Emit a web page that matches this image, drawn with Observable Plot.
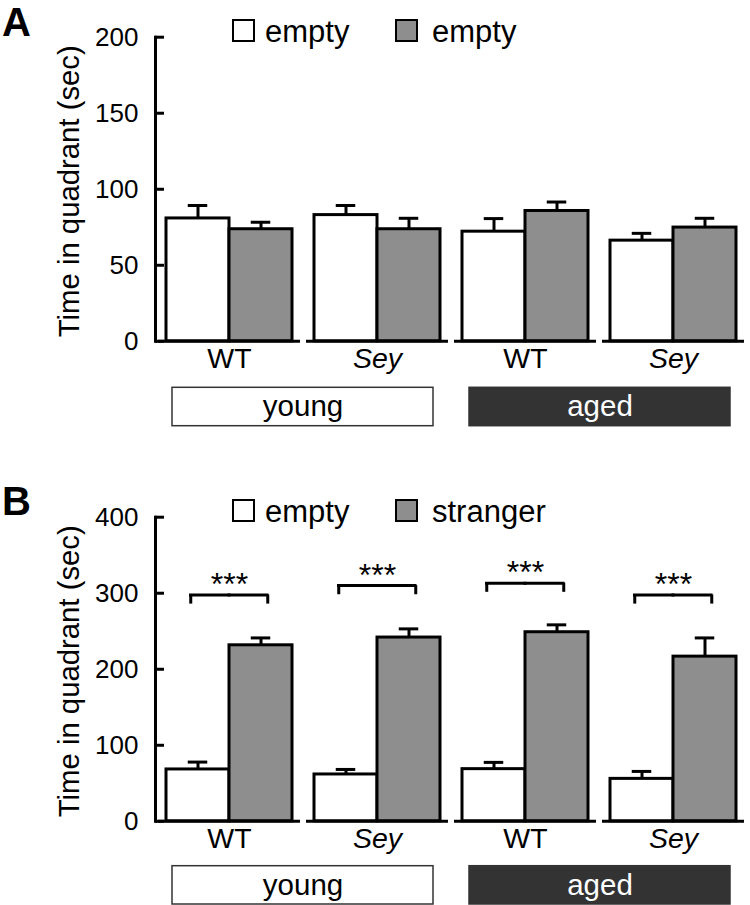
<!DOCTYPE html>
<html><head><meta charset="utf-8">
<script src="https://cdn.jsdelivr.net/npm/d3@7"></script>
<script src="https://cdn.jsdelivr.net/npm/@observablehq/plot@0.6"></script>
<style>
body{margin:0;background:#fff;font-family:"Liberation Sans",Arial,sans-serif;}
#root{position:relative;width:750px;height:905px;overflow:hidden;background:#fff}
.abs{position:absolute}
.letter{font-weight:bold;font-size:40px;line-height:1;color:#000}
.leg{font-size:31px;line-height:1;color:#000;white-space:nowrap}
.sw{width:19px;height:19px;border:2.5px solid #000}
svg{background:transparent !important}
</style></head><body><div id="root"></div>
<script>
// ---- data ----
const groups = ["young WT", "young Sey", "aged WT", "aged Sey"];
const genotypes = ["WT", "Sey", "WT", "Sey"];
const ages = ["young", "young", "aged", "aged"];
const ageLevels = ["young", "aged"];

const seriesA = ["empty", "empty"];
const meanA1 = [80.8, 83.0, 72.1, 66.2];
const semA1 = [8.5, 6.3, 8.6, 4.8];
const meanA2 = [73.7, 73.7, 85.7, 74.8];
const semA2 = [4.6, 7.2, 5.9, 6.1];
const ticksA = [0, 50, 100, 150, 200];

const seriesB = ["empty", "stranger"];
const meanB1 = [68.2, 61.6, 68.6, 55.8];
const semB1 = [9.7, 6.6, 8.9, 9.8];
const meanB2 = [231.5, 241.7, 248.7, 216.6];
const semB2 = [9.7, 11.4, 9.7, 24.6];
const sigB = ["***", "***", "***", "***"];
const bracketB = [297.7, 310, 313.2, 297.7];
const ticksB = [0, 100, 200, 300, 400];

const yLabel = "Time in quadrant (sec)";
const FONT = "'Liberation Sans', Arial, sans-serif";
const GRAY = "#8e8e8e";

const root = document.getElementById("root");

function rowsOf(m1, s1, m2, s2) {
  return groups.flatMap((g, i) => [
    {group: g, side: 0, value: m1[i], sem: s1[i]},
    {group: g, side: 1, value: m2[i], sem: s2[i]}
  ]);
}
const labelRows = groups.map((g, i) => ({group: g, genotype: genotypes[i], age: ages[i]}));

function mainPlot(rows, yDomain, ticks, extra) {
  return Plot.plot({
    width: 750, height: 384,
    marginTop: 36.7, marginBottom: 384 - 36.7 - 302.8 - 1.3, marginLeft: 154, marginRight: 2,
    style: {fontFamily: FONT, fontSize: "26px", color: "#000", background: "transparent", overflow: "visible"},
    fx: {domain: groups, padding: 0, axis: null},
    x: {type: "band", domain: [0, 1], paddingInner: 0, paddingOuter: 0.17, axis: null},
    y: {domain: yDomain},
    color: {type: "ordinal", domain: [0, 1], range: ["#ffffff", GRAY]},
    marks: [
      Plot.barY(rows, {fx: "group", x: "side", y: "value", fill: "side", stroke: "#000", strokeWidth: 3}),
      Plot.ruleX(rows, {fx: "group", x: "side", y1: "value", y2: d => d.value + d.sem, stroke: "#000", strokeWidth: 3}),
      Plot.tickY(rows, {fx: "group", x: "side", y: d => d.value + d.sem, stroke: "#000", strokeWidth: 3, insetLeft: 21.75, insetRight: 21.75}),
      Plot.ruleY([0], {stroke: "#000", strokeWidth: 3, insetLeft: 3, insetRight: 3}),
      Plot.frame({anchor: "left", facetAnchor: "left", stroke: "#000", strokeWidth: 3}),
      Plot.axisY({ticks, tickSize: -9, tickPadding: 26, strokeWidth: 3, fontSize: 26, label: null}),
      Plot.text([yLabel], {text: d => d, frameAnchor: "left", facetAnchor: "left", textAnchor: "middle", rotate: -90, dx: -86, dy: 2, fontSize: 29.3}),
      Plot.text(labelRows.filter(d => d.genotype === "WT"), {fx: "group", text: "genotype", frameAnchor: "bottom", dy: 26.9, fontSize: 28.5}),
      Plot.text(labelRows.filter(d => d.genotype === "Sey"), {fx: "group", text: "genotype", frameAnchor: "bottom", dy: 26.9, fontSize: 28.5, fontStyle: "italic"}),
      ...extra
    ]
  });
}

function stripPlot(h, mt, mb) {
  return Plot.plot({
    width: 750, height: h, marginTop: mt, marginBottom: mb, marginLeft: 154, marginRight: 2,
    style: {fontFamily: FONT, fontSize: "29.5px", color: "#000", background: "transparent", overflow: "visible"},
    x: {domain: ageLevels, padding: 0, axis: null},
    color: {domain: ageLevels, range: ["#ffffff", "#333333"]},
    marks: [
      Plot.cell(ageLevels, {x: d => d, fill: d => d, stroke: "#333", strokeWidth: 1.5, insetLeft: 18, insetRight: 18}),
      Plot.text(ageLevels.filter(d => d === "young"), {x: d => d, text: d => d, fill: "#000", fontSize: 29.5}),
      Plot.text(ageLevels.filter(d => d === "aged"), {x: d => d, text: d => d, fill: "#fff", fontSize: 29.5})
    ]
  });
}

function place(el, left, top) {
  el.style.position = "absolute";
  el.style.left = left + "px";
  el.style.top = top + "px";
  root.appendChild(el);
  return el;
}
function html(str) { const d = document.createElement("div"); d.innerHTML = str; return d.firstElementChild; }

function legend(series, top) {
  const xs = [[232, 265], [395, 432]];
  series.forEach((s, i) => {
    const sw = html(`<div class="sw" style="background:${i ? GRAY : "#fff"}"></div>`);
    place(sw, xs[i][0], top + 19);
    const t = html(`<div class="leg">${s}</div>`);
    place(t, xs[i][1], top + 16.3);
  });
}

// ---- Panel A ----
const rowsA = rowsOf(meanA1, semA1, meanA2, semA2);
place(mainPlot(rowsA, [0, 200], ticksA, []), 0, 0);
place(stripPlot(42, 1.3, 2.3), 0, 386);
place(html(`<div class="letter">A</div>`), 2, 2.2);
legend(seriesA, 0);

// ---- Panel B ----
const rowsB = rowsOf(meanB1, semB1, meanB2, semB2);
const brRows = groups.flatMap((g, i) => [
  {group: g, side: 0, y: bracketB[i], sig: sigB[i]},
  {group: g, side: 1, y: bracketB[i], sig: sigB[i]}
]);
const bExtra = [
  Plot.tickY(brRows.filter(d => d.side === 0), {fx: "group", x: "side", y: "y", insetLeft: 24.5, insetRight: 0, stroke: "#000", strokeWidth: 3, strokeLinecap: "square"}),
  Plot.tickY(brRows.filter(d => d.side === 1), {fx: "group", x: "side", y: "y", insetLeft: 0, insetRight: 25, stroke: "#000", strokeWidth: 3, strokeLinecap: "square"}),
  Plot.ruleX(brRows.filter(d => d.side === 0), {fx: "group", x: "side", y1: d => d.y - 12, y2: "y", dx: -7.25, stroke: "#000", strokeWidth: 3}),
  Plot.ruleX(brRows.filter(d => d.side === 1), {fx: "group", x: "side", y1: d => d.y - 12, y2: "y", dx: 6.75, stroke: "#000", strokeWidth: 3}),
  Plot.text(brRows.filter(d => d.side === 0), {fx: "group", y: "y", text: "sig", fontSize: 32, dy: -10})
];
place(mainPlot(rowsB, [0, 400], ticksB, bExtra), 0, 480);
place(stripPlot(41, 1.7, 1), 0, 864);
place(html(`<div class="letter">B</div>`), 2, 481);
legend(seriesB, 480);
</script></body></html>
